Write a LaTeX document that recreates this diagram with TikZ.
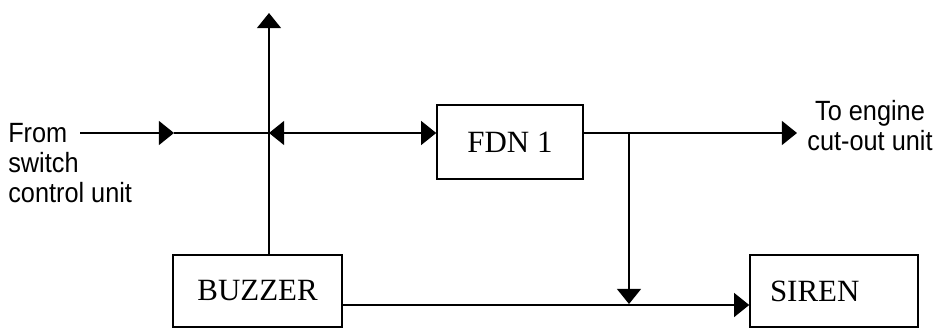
\documentclass[tikz,border=0pt]{standalone}
\usepackage{fontspec}
\setmainfont{Liberation Serif}
\setsansfont{Liberation Sans}
\usetikzlibrary{arrows.meta, positioning}

\begin{document}
\begin{tikzpicture}[
  x=1cm, y=1cm,
  box/.style={draw=black, fill=white, line width=1.1pt, inner sep=0pt,
              font=\fontsize{22}{26}\selectfont, minimum height=18mm},
  fl/.style={-{Triangle[length=3.8mm,width=6mm]}, draw=black, line width=1.4pt},
  fll/.style={{Triangle[length=3.8mm,width=6mm]}-{Triangle[length=3.8mm,width=6mm]},
              draw=black, line width=1.4pt},
  ln/.style={draw=black, line width=1.4pt},
  lb/.style={font=\sffamily\fontsize{18}{19.4}\selectfont, inner sep=0pt, yscale=1.1},
]
\useasboundingbox (0,0) rectangle (23.5,-8.2);

\node[box, minimum width=3.65cm, minimum height=1.85cm] (fdn) at (12.75,-3.55) {FDN 1};
\node[box, minimum width=4.225cm] (buz) at ( 6.44,-7.275) {BUZZER};
\node[box, text width=3.2cm, inner xsep=5mm, align=left] (sir) at (20.85,-7.275) {SIREN};

\node[lb, align=left, anchor=north west] (src) at (0.2,-3.075) {From\\switch\\control unit};
\node[lb, align=center, anchor=north] (dst) at (21.75,-2.5) {To engine\\cut-out unit};

\coordinate (s0)  at ( 2.000,-3.325);
\coordinate (mid) at ( 4.350,-3.325);
\coordinate (jn)  at ( 6.725,-3.325);
\coordinate (top) at ( 6.725,-0.325);
\coordinate (br)  at (15.725,-3.325);
\coordinate (out) at (19.925,-3.325);
\coordinate (jb)  at (15.725,-7.625);

% input line
\draw[fl] (s0) -- (mid);
\draw[ln] (mid) -- (jn);
\draw[fll] (jn) -- (jn -| fdn.west);

% buzzer feed
\draw[ln] (buz.north -| jn) -- (jn);
\draw[fl] (jn) -- (top);

% output
\draw[fl] (jn -| fdn.east) -- (out);
\draw[fl, shorten >=0.7pt] (br) -- (jb);
\draw[ln] (buz.east |- jb) -- (jb);
\draw[fl] (jb) -- (jb -| sir.west);
\end{tikzpicture}
\end{document}
